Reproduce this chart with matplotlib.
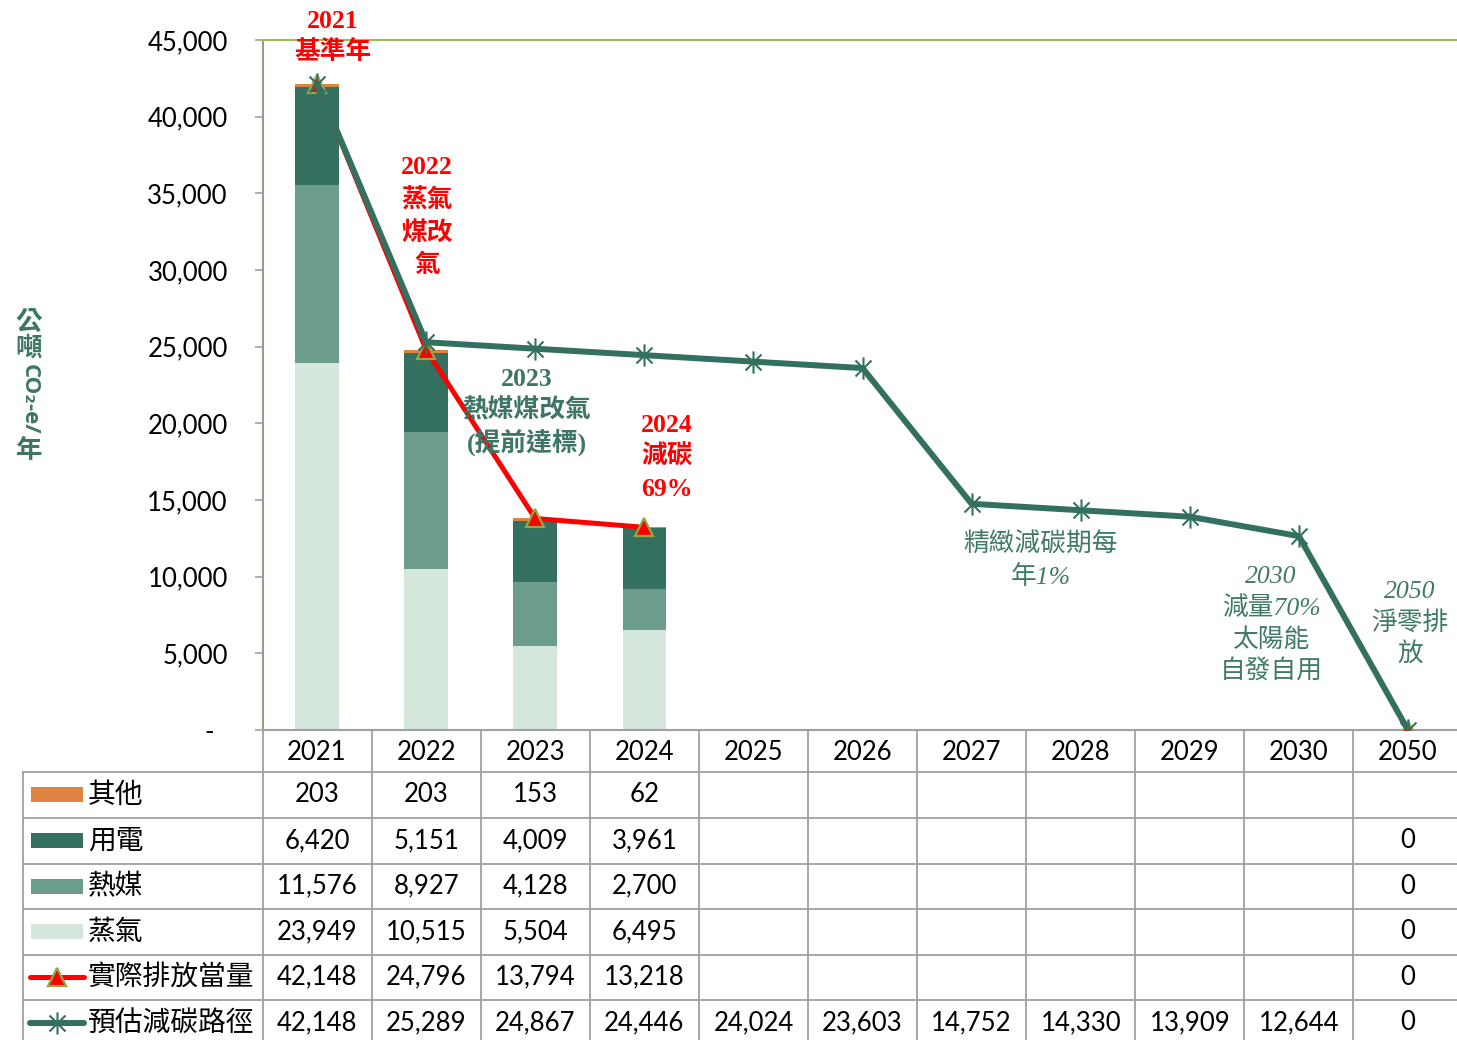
import matplotlib
matplotlib.use('Agg')
import matplotlib.pyplot as plt
import numpy as np
from matplotlib.path import Path
from matplotlib.lines import Line2D
from matplotlib.patches import Rectangle
import matplotlib.transforms as mtransforms

# ---------------- data ----------------
categories = ['2021', '2022', '2023', '2024', '2025', '2026', '2027', '2028', '2029', '2030', '2050']
other = [203, 203, 153, 62, None, None, None, None, None, None, None]
electricity = [6420, 5151, 4009, 3961, None, None, None, None, None, None, 0]
heat_medium = [11576, 8927, 4128, 2700, None, None, None, None, None, None, 0]
steam = [23949, 10515, 5504, 6495, None, None, None, None, None, None, 0]
actual = [42148, 24796, 13794, 13218, None, None, None, None, None, None, 0]
pathway = [42148, 25289, 24867, 24446, 24024, 23603, 14752, 14330, 13909, 12644, 0]
yticks = [0, 5000, 10000, 15000, 20000, 25000, 30000, 35000, 40000, 45000]
row_labels = ['其他', '用電', '熱媒', '蒸氣', '實際排放當量', '預估減碳路徑']

# ---------------- style ----------------
C_OTHER = '#DD8443'
C_ELEC = '#33705F'
C_HEAT = '#6C9C8B'
C_STEAM = '#D5E6DC'
C_PATH = '#33705F'
C_ACT = '#FF0000'
C_TRI_EDGE = '#8FA84A'
C_GRID = '#A0A0A0'
C_TXTG = '#3D7664'

NUM_FONT = ['Lato', 'DejaVu Sans']
CJK_FONT = ['Noto Sans CJK TC', 'DejaVu Sans']
SERIF_CJK = ['Liberation Serif', 'Noto Sans CJK TC', 'DejaVu Sans']

W, H = 1457, 1040
fig = plt.figure(figsize=(W / 100, H / 100), dpi=100)
fig.patch.set_facecolor('white')


def fx(px):
    return px / W


def fy(py):
    return 1 - py / H


ax = fig.add_axes([fx(262.5), fy(730), 1200 / W, 690 / H])
x = np.arange(len(categories))


def arr(v):
    return np.array([np.nan if a is None else a for a in v], dtype=float)


bottom = np.zeros(len(categories))
for vals, col in [(steam, C_STEAM), (heat_medium, C_HEAT), (electricity, C_ELEC), (other, C_OTHER)]:
    v = np.nan_to_num(arr(vals))
    ax.bar(x, v, 0.4, bottom=bottom, color=col, zorder=2, linewidth=0)
    bottom += v

star = Path([(0, -1), (0, 1), (-0.72, -0.72), (0.72, 0.72), (-0.72, 0.72), (0.72, -0.72)],
            [Path.MOVETO, Path.LINETO, Path.MOVETO, Path.LINETO, Path.MOVETO, Path.LINETO])

ax.plot(x, arr(actual), color=C_ACT, lw=3.6, marker='^', ms=13, mfc=C_ACT,
        mec=C_TRI_EDGE, mew=1.6, zorder=3, solid_capstyle='round')
ax.plot(x, arr(pathway), color=C_PATH, lw=4.3, marker=star, ms=16, mec=C_PATH,
        mew=1.5, zorder=4, solid_capstyle='round')

ax.set_xlim(-0.5, len(categories) - 0.5)
ax.set_ylim(0, 45000)
ax.set_yticks(yticks)
ax.set_yticklabels(['-  ' if t == 0 else f'{t:,}' for t in yticks], fontfamily=NUM_FONT, fontsize=18.5)
ax.tick_params(axis='y', direction='out', length=6, width=1.2, color=C_GRID, pad=19)
ax.set_xticks(x)
ax.set_xticklabels(categories, fontfamily=NUM_FONT, fontsize=18.5)
ax.tick_params(axis='x', length=0, pad=7)
ax.spines['top'].set_color('#9BBB59')
ax.spines['top'].set_linewidth(1.5)
ax.spines['right'].set_visible(False)
ax.spines['left'].set_color('#9A9A86')
ax.spines['left'].set_linewidth(1.5)
ax.spines['bottom'].set_color(C_GRID)
ax.spines['bottom'].set_linewidth(1.5)

# ---------------- y label (stacked vertical) ----------------
ylab_kw = dict(color=C_TXTG, fontweight='bold', ha='center', va='center')
fig.text(fx(29), fy(322), '公', family=CJK_FONT, fontsize=19, **ylab_kw)
fig.text(fx(29), fy(348), '噸', family=CJK_FONT, fontsize=19, **ylab_kw)
fig.text(fx(29), fy(399), 'CO₂-e/', family=['Open Sans', 'DejaVu Sans'], fontsize=16,
         rotation=-90, **ylab_kw)
fig.text(fx(29), fy(450), '年', family=CJK_FONT, fontsize=19, **ylab_kw)

# ---------------- annotations ----------------


def stack(px, pys, lines, **kw):
    for py, s in zip(pys, lines):
        fig.text(fx(px), fy(py), s, ha='center', va='center', **kw)


bold_red = dict(color=C_ACT, fontsize=18.5, fontweight='bold', family=SERIF_CJK)
bold_green = dict(color=C_TXTG, fontsize=18.5, fontweight='bold', family=SERIF_CJK)
ital_green = dict(color='#3F7A68', fontsize=18.5, fontstyle='italic', fontweight='light', family=SERIF_CJK)

stack(333, [22, 52], ['2021', '基準年'], **bold_red)
stack(427, [168, 201, 233, 265], ['2022', '蒸氣', '煤改', '氣'], **bold_red)
stack(527, [380, 410, 442], ['2023', '熱媒煤改氣', '(提前達標)'], **bold_green)
stack(667, [425, 457, 489], ['2024', '減碳', '69%'], **bold_red)
stack(1041, [545, 577], ['精緻減碳期每', '年1%'], **ital_green)
stack(1271, [577, 608, 640, 671], ['2030', '減量70%', '太陽能', '自發自用'], **ital_green)
stack(1410, [592, 623, 655], ['2050', '淨零排', '放'], **ital_green)

# ---------------- data table ----------------
trans = mtransforms.blended_transform_factory(ax.transData, fig.transFigure)
row_edges = [772, 818, 863.5, 909, 954.5, 1000]
row_h = 45.5
lkw = dict(color=C_GRID, lw=1.3, zorder=5)
for ry in row_edges:
    fig.add_artist(Line2D([fx(23), fx(W + 10)], [fy(ry), fy(ry)], transform=fig.transFigure, **lkw))
fig.add_artist(Line2D([fx(23), fx(23)], [fy(772), fy(H + 10)], transform=fig.transFigure, **lkw))
for k in range(len(categories)):
    xb = k - 0.5
    fig.add_artist(Line2D([xb, xb], [fy(730), fy(H + 10)], transform=trans, **lkw))

series_rows = [other, electricity, heat_medium, steam, actual, pathway]
for i, (lab, vals) in enumerate(zip(row_labels, series_rows)):
    cy = row_edges[i] + row_h / 2
    fig.text(fx(88), fy(cy), lab, family=CJK_FONT, fontsize=20, ha='left', va='center')
    for k, v in enumerate(vals):
        if v is None:
            continue
        fig.text(k, fy(cy), f'{v:,}', transform=trans, family=NUM_FONT, fontsize=18.5,
                 ha='center', va='center')

# legend keys
key_cols = [C_OTHER, C_ELEC, C_HEAT, C_STEAM]
for i, col in enumerate(key_cols):
    cy = row_edges[i] + row_h / 2
    fig.add_artist(Rectangle((fx(31), fy(cy + 7.5)), 52 / W, 15 / H, transform=fig.transFigure,
                             facecolor=col, edgecolor='none'))
cy = row_edges[4] + row_h / 2
fig.add_artist(Line2D([fx(30), fx(84)], [fy(cy), fy(cy)], transform=fig.transFigure,
                      color=C_ACT, lw=3.6, solid_capstyle='round'))
fig.add_artist(Line2D([fx(57)], [fy(cy)], transform=fig.transFigure, marker='^', ms=13,
                      mfc=C_ACT, mec=C_TRI_EDGE, mew=1.6, lw=0))
cy = row_edges[5] + row_h / 2
fig.add_artist(Line2D([fx(30), fx(84)], [fy(cy), fy(cy)], transform=fig.transFigure,
                      color=C_PATH, lw=4.3, solid_capstyle='round'))
fig.add_artist(Line2D([fx(57)], [fy(cy)], transform=fig.transFigure, marker=star, ms=16,
                      mec=C_PATH, mew=1.5, lw=0))

fig.savefig('out.png', dpi=100, facecolor='white')
